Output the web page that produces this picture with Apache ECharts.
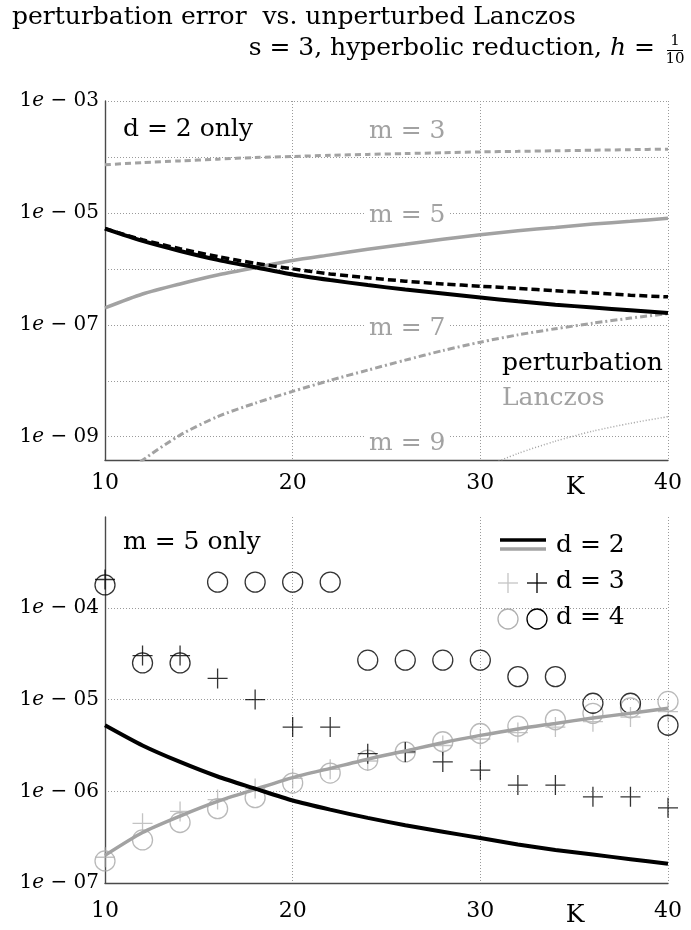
<!DOCTYPE html>
<html>
<head>
<meta charset="utf-8">
<script src="https://cdn.jsdelivr.net/npm/echarts@6/dist/echarts.min.js"></script>
<style>
  html, body { margin: 0; padding: 0; background: #fff; }
  #chart { width: 691px; height: 930px; }
</style>
</head>
<body>
<div id="chart"></div>
<script>
// K values at which every quantity was evaluated
const kValues = [10, 12, 14, 16, 18, 20, 22, 24, 26, 28, 30, 32, 34, 36, 38, 40];

// d = 2: perturbation error and unperturbed Lanczos error for m = 3, 5, 7, 9
const pertM5 = [5.25e-6, 3.16e-6, 2.09e-6, 1.45e-6, 1.07e-6, 7.94e-7, 6.31e-7, 5.13e-7,
                4.27e-7, 3.63e-7, 3.09e-7, 2.63e-7, 2.29e-7, 2.04e-7, 1.82e-7, 1.62e-7];
const pertM3 = [5.25e-6, 3.31e-6, 2.29e-6, 1.66e-6, 1.26e-6, 1.00e-6, 8.13e-7, 6.92e-7,
                6.03e-7, 5.37e-7, 4.90e-7, 4.47e-7, 4.07e-7, 3.72e-7, 3.39e-7, 3.16e-7];
const lanczosM3 = [7.24e-5, 7.94e-5, 8.51e-5, 9.12e-5, 9.77e-5, 1.02e-4, 1.07e-4, 1.11e-4,
                   1.15e-4, 1.19e-4, 1.23e-4, 1.26e-4, 1.29e-4, 1.32e-4, 1.35e-4, 1.38e-4];
const lanczosM5 = [2.00e-7, 3.55e-7, 5.37e-7, 7.76e-7, 1.05e-6, 1.41e-6, 1.78e-6, 2.24e-6,
                   2.75e-6, 3.39e-6, 4.07e-6, 4.79e-6, 5.50e-6, 6.31e-6, 7.08e-6, 8.04e-6];
const lanczosM7 = [1.12e-10, 3.80e-10, 1.07e-9, 2.29e-9, 3.98e-9, 6.46e-9, 1.02e-8, 1.55e-8,
                   2.34e-8, 3.47e-8, 4.90e-8, 6.61e-8, 8.51e-8, 1.07e-7, 1.32e-7, 1.58e-7];
const kValuesM9 = [26, 28, 30, 32, 34, 36, 38, 40];
const lanczosM9 = [3.98e-11, 1.12e-10, 2.63e-10, 5.01e-10, 8.32e-10, 1.26e-9, 1.74e-9, 2.29e-9];

// m = 5: d = 3 and d = 4 (d = 2 reuses pertM5 / lanczosM5)
const pertD3 = [2.04e-4, 3.02e-5, 3.02e-5, 1.70e-5, 1.00e-5, 5.01e-6, 5.01e-6, 2.57e-6,
                2.69e-6, 2.09e-6, 1.70e-6, 1.17e-6, 1.17e-6, 8.71e-7, 8.71e-7, 6.61e-7];
const lanczosD3 = [1.91e-7, 4.47e-7, 6.03e-7, 8.13e-7, 1.07e-6, 1.38e-6, 1.74e-6, 2.14e-6,
                   2.63e-6, 3.16e-6, 3.72e-6, 4.37e-6, 5.01e-6, 5.75e-6, 6.46e-6, 7.41e-6];
const pertD4 = [1.78e-4, 2.51e-5, 2.51e-5, 1.91e-4, 1.91e-4, 1.91e-4, 1.91e-4, 2.69e-5,
                2.69e-5, 2.69e-5, 2.69e-5, 1.78e-5, 1.78e-5, 9.12e-6, 9.12e-6, 5.25e-6];
const lanczosD4 = [1.74e-7, 2.95e-7, 4.57e-7, 6.46e-7, 8.51e-7, 1.23e-6, 1.58e-6, 2.19e-6,
                   2.69e-6, 3.47e-6, 4.27e-6, 5.13e-6, 6.03e-6, 7.08e-6, 8.13e-6, 9.55e-6];

// Axis ticks (powers of ten, given as exponents)
const xTicks = [10, 20, 30, 40];
const topLabelExps = [-3, -5, -7, -9];
const topGridExps = [-3, -4, -5, -6, -7, -8, -9];
const bottomLabelExps = [-4, -5, -6, -7];
const bottomGridExps = [-4, -5, -6, -7];
const topRange = [3.84e-10, 1e-3];
const bottomRange = [1e-7, 9.8e-4];

const FONT = 'DejaVu Serif';
const GREY = '#a2a2a2';
const BLACK = '#000';
const PLUS = 'path://M10,0V20M0,10H20';

// errors are drawn on log10 scale
const lg = Math.log10;
const pts = (ks, vals) => ks.map((k, i) => [k, lg(vals[i])]);

function xAxisFor(gridIndex, margin) {
  return {
    type: 'value', gridIndex, min: xTicks[0], max: xTicks[xTicks.length - 1], interval: 10,
    axisLine: { show: true, onZero: false, lineStyle: { color: '#4a4a4a', width: 1.4 } },
    axisTick: { show: false },
    axisLabel: { color: BLACK, fontFamily: FONT, fontSize: 22, margin },
    splitLine: { show: true, lineStyle: { color: '#9a9a9a', width: 1, type: [1, 2] } }
  };
}
function yAxisFor(gridIndex, range, labelExps, gridExps) {
  return {
    type: 'value', gridIndex, min: lg(range[0]), max: lg(range[1]),
    axisLine: { show: true, onZero: false, lineStyle: { color: '#4a4a4a', width: 1.4 } },
    axisTick: { show: false, customValues: gridExps },
    axisLabel: {
      customValues: labelExps, margin: 6, color: BLACK, fontFamily: FONT, fontSize: 20,
      formatter: v => '1{i|e} − ' + String(-v).padStart(2, '0'),
      rich: { i: { fontFamily: FONT, fontSize: 20, fontStyle: 'italic', color: BLACK } }
    },
    splitLine: { show: true, lineStyle: { color: '#9a9a9a', width: 1, type: [1, 2] } }
  };
}
function line(name, axis, ks, vals, color, width, type) {
  return {
    name, type: 'line', xAxisIndex: axis, yAxisIndex: axis, data: pts(ks, vals),
    showSymbol: false, smooth: 0.25, clip: true, silent: true,
    lineStyle: { color, width, type }
  };
}
function marks(name, vals, symbol, color) {
  return {
    name, type: 'scatter', xAxisIndex: 1, yAxisIndex: 1, data: pts(kValues, vals),
    symbol, symbolSize: 20, silent: true,
    itemStyle: { color: 'transparent', borderColor: color, borderWidth: 1.3 }
  };
}

function text(x, y, str, opt) {
  opt = opt || {};
  return {
    type: 'text', x, y, z: 100,
    style: Object.assign({
      text: str, fill: BLACK, font: (opt.size || 25) + 'px "' + FONT + '"',
      align: 'left', verticalAlign: 'middle'
    }, opt.style || {})
  };
}
const onWhite = { backgroundColor: '#fff', padding: [0, 3] };

const graphics = [
  text(12, 17, 'perturbation error  vs. unperturbed Lanczos'),
  {
    type: 'text', x: 655, y: 48, z: 100,
    style: {
      text: 's = 3, hyperbolic reduction, {i|h} =', fill: BLACK, font: '25px "' + FONT + '"',
      align: 'right', verticalAlign: 'middle',
      rich: { i: { fontFamily: FONT, fontSize: 25, fontStyle: 'italic', fill: BLACK } }
    }
  },
  text(675, 41, '1', { size: 15, style: { align: 'center' } }),
  { type: 'line', z: 100, shape: { x1: 667, y1: 50.5, x2: 683, y2: 50.5 }, style: { stroke: BLACK, lineWidth: 1 } },
  text(675, 59, '10', { size: 15, style: { align: 'center' } }),

  // upper panel annotations
  text(123, 129, 'd = 2 only'),
  text(366, 131, 'm = 3', { style: Object.assign({ fill: GREY }, onWhite) }),
  text(366, 215, 'm = 5', { style: Object.assign({ fill: GREY }, onWhite) }),
  text(366, 328, 'm = 7', { style: Object.assign({ fill: GREY }, onWhite) }),
  text(366, 443, 'm = 9', { style: Object.assign({ fill: GREY }, onWhite) }),
  text(499, 363, 'perturbation', { style: onWhite }),
  text(499, 398, 'Lanczos', { style: Object.assign({ fill: GREY }, onWhite) }),
  text(575, 487, 'K', { style: { align: 'center' } }),

  // lower panel annotations and key
  text(123, 542, 'm = 5 only'),
  { type: 'line', z: 100, shape: { x1: 500, y1: 540, x2: 546, y2: 540 }, style: { stroke: BLACK, lineWidth: 3.5 } },
  { type: 'line', z: 100, shape: { x1: 500, y1: 549, x2: 546, y2: 549 }, style: { stroke: GREY, lineWidth: 3.5 } },
  text(556, 545, 'd = 2'),
  { type: 'line', z: 100, shape: { x1: 498, y1: 583, x2: 518, y2: 583 }, style: { stroke: '#c4c4c4', lineWidth: 1.3 } },
  { type: 'line', z: 100, shape: { x1: 508, y1: 573, x2: 508, y2: 593 }, style: { stroke: '#c4c4c4', lineWidth: 1.3 } },
  { type: 'line', z: 100, shape: { x1: 527, y1: 583, x2: 547, y2: 583 }, style: { stroke: BLACK, lineWidth: 1.3 } },
  { type: 'line', z: 100, shape: { x1: 537, y1: 573, x2: 537, y2: 593 }, style: { stroke: BLACK, lineWidth: 1.3 } },
  text(556, 581, 'd = 3'),
  { type: 'circle', z: 100, shape: { cx: 508, cy: 619, r: 10 }, style: { fill: 'none', stroke: '#b0b0b0', lineWidth: 1.3 } },
  { type: 'circle', z: 100, shape: { cx: 537, cy: 619, r: 10 }, style: { fill: 'none', stroke: BLACK, lineWidth: 1.3 } },
  text(556, 617, 'd = 4'),
  text(575, 915, 'K', { style: { align: 'center' } })
];

const chart = echarts.init(document.getElementById('chart'), null, { renderer: 'canvas' });
chart.setOption({
  animation: false,
  backgroundColor: '#fff',
  grid: [
    { left: 105, right: 23, top: 101, height: 359 },
    { left: 105, right: 23, top: 517, height: 366 }
  ],
  xAxis: [xAxisFor(0, 12), xAxisFor(1, 17)],
  yAxis: [
    yAxisFor(0, topRange, topLabelExps, topGridExps),
    yAxisFor(1, bottomRange, bottomLabelExps, bottomGridExps)
  ],
  series: [
    line('Lanczos m=3', 0, kValues, lanczosM3, GREY, 3, [6, 4]),
    line('Lanczos m=5', 0, kValues, lanczosM5, GREY, 3.5, 'solid'),
    line('Lanczos m=7', 0, kValues, lanczosM7, GREY, 3, [7, 3, 2, 3]),
    line('Lanczos m=9', 0, kValuesM9, lanczosM9, GREY, 1.5, [1, 2]),
    line('perturbation m=3', 0, kValues, pertM3, BLACK, 3.5, [8, 4]),
    line('perturbation m=5', 0, kValues, pertM5, BLACK, 4, 'solid'),

    line('Lanczos d=2', 1, kValues, lanczosM5, GREY, 3.5, 'solid'),
    line('perturbation d=2', 1, kValues, pertM5, BLACK, 4, 'solid'),
    marks('Lanczos d=4', lanczosD4, 'circle', '#a8a8a8'),
    marks('Lanczos d=3', lanczosD3, PLUS, '#b4b4b4'),
    marks('perturbation d=3', pertD3, PLUS, BLACK),
    marks('perturbation d=4', pertD4, 'circle', BLACK)
  ],
  graphic: graphics
});
</script>
</body>
</html>
